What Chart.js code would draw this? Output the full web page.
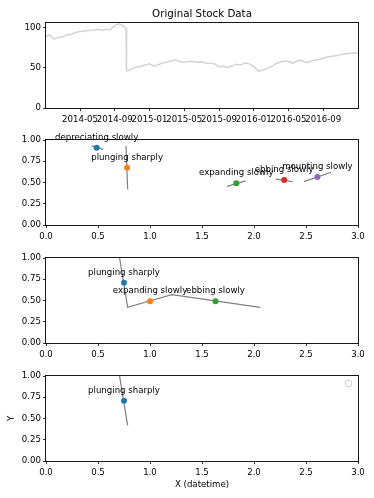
<!DOCTYPE html>
<html>
<head>
<meta charset="utf-8">
<script src="https://cdn.jsdelivr.net/npm/chart.js@4.4.0/dist/chart.umd.min.js"></script>
<style>
  html, body { margin: 0; padding: 0; background: #fff; }
  body { width: 374px; height: 498px; position: relative; overflow: hidden; }
  canvas { position: absolute; left: 0; }
</style>
</head>
<body>
<canvas id="c1" width="374" height="125" style="top:0px"></canvas>
<canvas id="c2" width="374" height="120" style="top:125px"></canvas>
<canvas id="c3" width="374" height="120" style="top:245px"></canvas>
<canvas id="c4" width="374" height="133" style="top:365px"></canvas>
<script>
// months since 2014-01-01
const months = [0.1, 0.5, 1, 1.5, 2, 2.5, 3, 3.5, 4, 4.5, 5, 5.5, 6, 6.5, 7, 7.5, 8, 8.5, 9, 9.3,
  9.35, 9.5, 10, 10.5, 11, 11.5, 12, 12.5, 13, 13.5, 14, 14.5, 15, 15.5, 16, 16.5, 17, 17.5, 18, 18.5,
  19, 19.5, 20, 20.5, 21, 21.5, 22, 22.5, 23, 23.5, 24, 24.5, 25, 25.5, 26, 26.5, 27, 27.5, 28, 28.5,
  29, 29.5, 30, 30.5, 31, 31.5, 32, 32.5, 33, 33.5, 34, 34.5, 35, 35.5, 36];
const price = [89, 91, 86, 88, 89, 91, 92, 94, 95.5, 96, 96.5, 97, 98, 97, 98, 97.5, 103, 105, 102, 99,
  47, 46.5, 49, 51, 52, 53.5, 55, 52.5, 54, 56, 57, 58.5, 60, 57.5, 57, 58, 58, 57, 57.5, 56,
  55.8, 55, 51.5, 52, 50.5, 52.5, 54.5, 53.5, 56, 55, 51.5, 46, 47, 49, 51.5, 55, 57, 58.5, 58, 56,
  58.5, 59.5, 56.5, 58, 59.5, 60.5, 62, 63.5, 64.5, 65, 66.5, 67.5, 68, 68.5, 68.5];
const dateTicks = [4, 8, 12, 16, 20, 24, 28, 32];
const dateLabels = ['2014-05', '2014-09', '2015-01', '2015-05', '2015-09', '2016-01', '2016-05', '2016-09'];
const priceTicks = [0, 50, 100];

const colors = ['#1f77b4', '#ff7f0e', '#2ca02c', '#d62728', '#9467bd'];

// panel 2
const p2Labels = ['depreciating slowly', 'plunging sharply', 'expanding slowly', 'ebbing slowly', 'mounting slowly'];
const p2X = [0.487, 0.78, 1.83, 2.29, 2.61];
const p2Y = [0.91, 0.675, 0.49, 0.53, 0.565];
const p2SegX = [[0.44, 0.55], [0.77, 0.785], [1.74, 1.92], [2.21, 2.37], [2.48, 2.74]];
const p2SegY = [[0.93, 0.89], [0.93, 0.42], [0.455, 0.52], [0.54, 0.51], [0.51, 0.62]];

// panel 3
const p3Labels = ['plunging sharply', 'expanding slowly', 'ebbing slowly'];
const p3X = [0.75, 1.0, 1.63];
const p3Y = [0.71, 0.49, 0.49];
const p3PathX = [0.705, 0.785, 1.21, 2.06];
const p3PathY = [1.02, 0.42, 0.57, 0.42];

// panel 4
const p4Labels = ['plunging sharply'];
const p4X = [0.75];
const p4Y = [0.71];
const p4PathX = [0.705, 0.785];
const p4PathY = [1.02, 0.42];

const unitTicks = [0, 0.5, 1, 1.5, 2, 2.5, 3];
const fracTicks = [0, 0.25, 0.5, 0.75, 1];

const FS = 8.6;
Chart.defaults.font.family = "'DejaVu Sans', sans-serif";
Chart.defaults.font.size = FS;
Chart.defaults.color = '#000';
Chart.defaults.animation = false;

const framePlugin = {
  id: 'frame',
  afterDatasetsDraw(chart, args, opts) {
    const { ctx, chartArea: a } = chart;
    ctx.save();
    ctx.strokeStyle = '#000';
    ctx.lineWidth = 0.9;
    ctx.strokeRect(Math.round(a.left) - 0.5, Math.round(a.top) - 0.5,
      Math.round(a.right - a.left) + 1, Math.round(a.bottom - a.top) + 1);
    const labels = opts.labels || [];
    ctx.fillStyle = '#000';
    ctx.font = FS + "px 'DejaVu Sans'";
    ctx.textAlign = 'center';
    ctx.textBaseline = 'alphabetic';
    const xs = chart.scales.x, ys = chart.scales.y;
    labels.forEach((t, i) => {
      ctx.fillText(t, xs.getPixelForValue(opts.lx[i]), ys.getPixelForValue(opts.ly[i]) - 8);
    });
    if (opts.legendBox) {
      ctx.strokeStyle = '#d0d0d0';
      ctx.lineWidth = 1;
      ctx.beginPath();
      ctx.roundRect(a.right - 12.5, a.top + 4.5, 6, 6, 1.5);
      ctx.stroke();
    }
    ctx.restore();
  }
};

function pts(xs, ys) { return xs.map((x, i) => ({ x: x, y: ys[i] })); }

function axis(ticks, fmt, extra) {
  return Object.assign({
    type: 'linear',
    min: ticks[0],
    max: ticks[ticks.length - 1],
    afterBuildTicks: s => { s.ticks = ticks.map(v => ({ value: v })); },
    ticks: { callback: fmt, autoSkip: false, maxRotation: 0, minRotation: 0, padding: 2, color: '#000' },
    grid: { drawOnChartArea: false, drawTicks: true, tickLength: 3, tickColor: '#000', tickWidth: 0.8 },
    border: { display: false }
  }, extra || {});
}

function xPad(ax) { ax.ticks.padding = 4; return ax; }

// ---- panel 1: original stock data
new Chart(document.getElementById('c1'), {
  type: 'scatter',
  data: {
    datasets: [{
      data: pts(months, price),
      showLine: true,
      borderColor: '#d3d3d3',
      borderWidth: 1.5,
      pointRadius: 0
    }]
  },
  options: {
    responsive: false,
    layout: { padding: { left: 0, right: 16, top: 0, bottom: 0 } },
    plugins: {
      legend: { display: false },
      tooltip: { enabled: false },
      title: {
        display: true, text: 'Original Stock Data', fullSize: false,
        font: { size: 10.3, weight: 'normal' }, color: '#000',
        padding: { top: 8.6, bottom: 2 }
      },
      frame: {}
    },
    scales: {
      x: Object.assign(xPad(axis(dateTicks, (v, i) => dateLabels[i])), {
        min: 0.08, max: 36.0, afterFit: s => { s.height = 17; }
      }),
      y: Object.assign(axis(priceTicks, v => v), {
        min: 0, max: 106, afterFit: s => { s.width = 46; }
      })
    }
  },
  plugins: [framePlugin]
});

function annotChart(id, padTop, xHeight, pointX, pointY, lines, labels, extra) {
  const ds = [];
  lines.forEach(l => ds.push({
    data: pts(l[0], l[1]), showLine: true, borderColor: '#808080', borderWidth: 1.2,
    pointRadius: 0, order: 2
  }));
  pointX.forEach((x, i) => ds.push({
    data: [{ x: x, y: pointY[i] }], backgroundColor: colors[i], borderWidth: 0,
    pointRadius: 3, order: 0
  }));
  const xs = xPad(axis(unitTicks, v => v.toFixed(1), { afterFit: s => { s.height = xHeight; } }));
  const ys = axis(fracTicks, v => v.toFixed(2), { afterFit: s => { s.width = 46; } });
  if (extra && extra.xTitle) {
    xs.title = { display: true, text: extra.xTitle, color: '#000', padding: { top: 0, bottom: 8 } };
    ys.title = { display: true, text: extra.yTitle, color: '#000', padding: { top: 6.8, bottom: 0 } };
  }
  return new Chart(document.getElementById(id), {
    type: 'scatter',
    data: { datasets: ds },
    options: {
      responsive: false,
      layout: { padding: { left: 0, right: 16, top: padTop, bottom: 0 } },
      plugins: {
        legend: { display: false },
        tooltip: { enabled: false },
        frame: { labels: labels, lx: pointX, ly: pointY, legendBox: !!(extra && extra.legendBox) }
      },
      scales: { x: xs, y: ys }
    },
    plugins: [framePlugin]
  });
}

annotChart('c2', 15, 20, p2X, p2Y,
  p2SegX.map((sx, i) => [sx, p2SegY[i]]), p2Labels);
annotChart('c3', 13, 22, p3X, p3Y, [[p3PathX, p3PathY]], p3Labels);
annotChart('c4', 11, 37, p4X, p4Y, [[p4PathX, p4PathY]], p4Labels,
  { xTitle: 'X (datetime)', yTitle: 'Y', legendBox: true });
</script>
</body>
</html>
